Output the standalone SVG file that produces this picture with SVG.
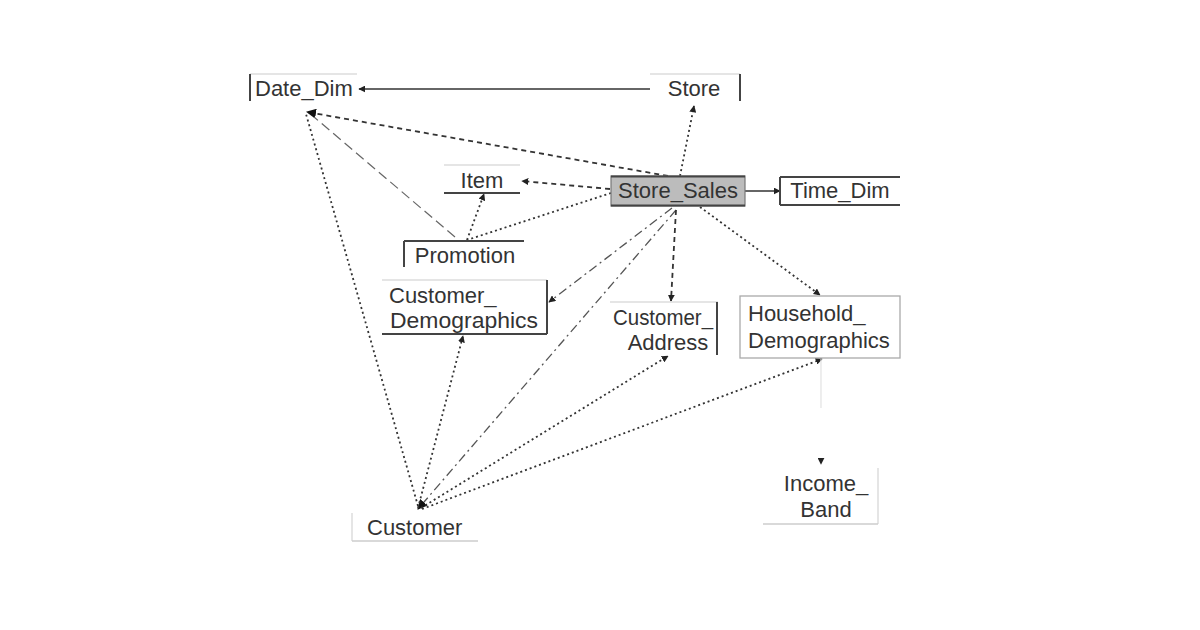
<svg xmlns="http://www.w3.org/2000/svg" width="1200" height="630" viewBox="0 0 1200 630">
<defs>
<marker id="arr" viewBox="0 0 10 10" refX="9" refY="5" markerWidth="7" markerHeight="7" markerUnits="userSpaceOnUse" orient="auto">
<path d="M0,0 L10,5 L0,10 z" fill="#222"/>
</marker>
<marker id="arrBig" viewBox="0 0 10 10" refX="9" refY="5" markerWidth="10" markerHeight="10" markerUnits="userSpaceOnUse" orient="auto">
<path d="M0,0 L10,5 L0,10 z" fill="#111"/>
</marker>
</defs>
<style>
text{font-family:"Liberation Sans",Arial,sans-serif;font-size:22px;fill:#333}
.dark{stroke:#444;stroke-width:2;fill:none}
.faint{stroke:#ddd;stroke-width:1.5;fill:none}
.solid{stroke:#333;stroke-width:1.5;fill:none}
.dot{stroke:#333;stroke-width:1.8;fill:none;stroke-dasharray:2 3}
.dash{stroke:#333;stroke-width:1.8;fill:none;stroke-dasharray:5 4}
.dashdot{stroke:#555;stroke-width:1.3;fill:none;stroke-dasharray:9 4 2 4}
.long{stroke:#666;stroke-width:1.2;fill:none;stroke-dasharray:10 5}
</style>
<rect width="1200" height="630" fill="#fff"/>
<g id="connectors">
<line class="solid" x1="650" y1="89" x2="359" y2="89" marker-end="url(#arr)"/>
<line class="dash" x1="668" y1="176" x2="307" y2="112" marker-end="url(#arrBig)"/>
<line class="dot" x1="418" y1="506" x2="306" y2="114"/>
<line class="long" x1="455" y1="237" x2="314" y2="117"/>
<line class="dot" x1="680" y1="176" x2="694" y2="106" marker-end="url(#arr)"/>
<line class="dash" x1="610" y1="189" x2="522" y2="181" marker-end="url(#arr)"/>
<line class="solid" x1="745" y1="191" x2="780" y2="191" marker-end="url(#arr)"/>
<line class="dot" x1="611" y1="193" x2="467" y2="240"/>
<line class="dot" x1="467" y1="240" x2="484" y2="194" marker-end="url(#arr)"/>
<line class="dashdot" x1="672" y1="208" x2="549" y2="302" marker-end="url(#arr)"/>
<line class="dashdot" x1="676" y1="210" x2="418" y2="509" marker-end="url(#arrBig)"/>
<line class="dash" x1="676" y1="210" x2="671" y2="301" marker-end="url(#arr)"/>
<line class="dot" x1="700" y1="207" x2="820" y2="295" marker-end="url(#arr)"/>
<line class="dot" x1="418" y1="508" x2="463" y2="336" marker-end="url(#arr)"/>
<line class="dot" x1="421" y1="508" x2="668" y2="356" marker-end="url(#arr)"/>
<line class="dot" x1="422" y1="509" x2="822" y2="359" marker-end="url(#arr)"/>
<line stroke="#e2e2e2" stroke-width="1.2" x1="821" y1="359" x2="821" y2="408"/>
<line stroke="#fff" stroke-width="1" x1="821" y1="450" x2="821" y2="464" marker-end="url(#arr)"/>
</g>
<g id="Date_Dim">
<line class="faint" x1="250" y1="74" x2="357" y2="74"/>
<line class="dark" x1="250" y1="74" x2="250" y2="101"/>
<text x="255" y="96">Date_Dim</text>
</g>
<g id="Store">
<line class="faint" x1="650" y1="74" x2="740" y2="74"/>
<line class="dark" x1="740" y1="74" x2="740" y2="101"/>
<text x="694" y="96" text-anchor="middle">Store</text>
</g>
<g id="Item">
<line class="faint" x1="444" y1="165" x2="520" y2="165"/>
<line class="dark" x1="444" y1="193" x2="520" y2="193"/>
<text x="482" y="188" text-anchor="middle">Item</text>
</g>
<g id="Store_Sales">
<rect x="611" y="176" width="134" height="30" fill="#bcbcbc" stroke="#777" stroke-width="1.2"/>
<line class="dark" x1="611" y1="176.5" x2="745" y2="176.5"/>
<line class="dark" x1="611" y1="205.5" x2="745" y2="205.5"/>
<text x="678" y="198" text-anchor="middle">Store_Sales</text>
</g>
<g id="Time_Dim">
<line class="dark" x1="780" y1="177" x2="900" y2="177"/>
<line class="dark" x1="780" y1="205" x2="900" y2="205"/>
<line class="dark" x1="780" y1="177" x2="780" y2="205"/>
<text x="840" y="198" text-anchor="middle">Time_Dim</text>
</g>
<g id="Promotion">
<line class="dark" x1="404" y1="241" x2="524" y2="241"/>
<line class="dark" x1="404" y1="241" x2="404" y2="267"/>
<text x="465" y="263" text-anchor="middle">Promotion</text>
</g>
<g id="Customer_Demographics">
<line class="faint" x1="382" y1="280" x2="547" y2="280"/>
<line class="dark" x1="547" y1="280" x2="547" y2="334"/>
<line class="dark" x1="382" y1="334" x2="547" y2="334"/>
<text x="389" y="303">Customer_</text>
<text x="390" y="328" textLength="148" lengthAdjust="spacingAndGlyphs">Demographics</text>
</g>
<g id="Customer_Address">
<line class="faint" x1="610" y1="302" x2="718" y2="302"/>
<line class="dark" x1="717" y1="302" x2="717" y2="355"/>
<text x="613" y="325" textLength="100" lengthAdjust="spacingAndGlyphs">Customer_</text>
<text x="668" y="350" text-anchor="middle">Address</text>
</g>
<g id="Household_Demographics">
<rect x="740" y="296" width="160" height="62" fill="none" stroke="#aaa" stroke-width="1.3"/>
<text x="748" y="321">Household_</text>
<text x="748" y="348">Demographics</text>
</g>
<g id="Income_Band">
<line class="faint" x1="878" y1="468" x2="878" y2="524"/>
<line stroke="#ccc" stroke-width="1.5" x1="763" y1="524" x2="878" y2="524"/>
<text x="826" y="491" text-anchor="middle">Income_</text>
<text x="826" y="517" text-anchor="middle">Band</text>
</g>
<g id="Customer">
<line class="faint" x1="352" y1="513" x2="352" y2="541"/>
<line stroke="#ccc" stroke-width="1.5" x1="352" y1="541" x2="478" y2="541"/>
<text x="367" y="535">Customer</text>
</g>
</svg>
